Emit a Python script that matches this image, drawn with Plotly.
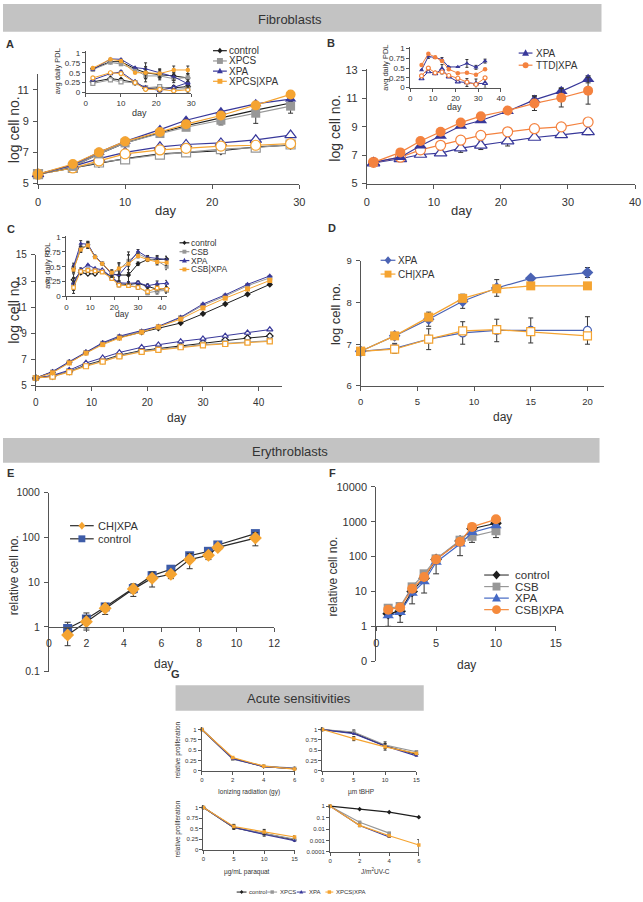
import plotly.graph_objects as go

W, H = 643, 902
FONT = 'Liberation Sans, Arial, Helvetica, sans-serif'

# ---------------- DATA ----------------
# Panel A (fibroblasts, XPCS)
a_days = [0, 4, 7, 10, 14, 17, 21, 25, 29]
a_ctrl_hi = [5.6, 6.1, 6.9, 7.6, 8.25, 8.7, 9.2, 9.7, 10.15]
a_xpcs_hi = [5.6, 6.1, 6.9, 7.6, 8.2, 8.6, 9.05, 9.5, 9.95]
a_xpa_hi = [5.6, 6.2, 7.0, 7.7, 8.45, 9.05, 9.6, 10.1, 10.4]
a_dbl_hi = [5.6, 6.25, 7.0, 7.7, 8.3, 8.8, 9.35, 10.0, 10.7]
a_ctrl_lo = [5.6, 6.0, 6.3, 6.6, 6.9, 7.0, 7.1, 7.35, 7.45]
a_xpcs_lo = [5.6, 6.0, 6.35, 6.55, 6.85, 7.0, 7.2, 7.3, 7.5]
a_xpa_lo = [5.6, 6.1, 6.6, 7.0, 7.35, 7.5, 7.6, 7.8, 8.1]
a_dbl_lo = [5.6, 6.0, 6.45, 6.9, 7.15, 7.25, 7.4, 7.45, 7.55]
a_ctrl_hi_err = [0, 0, 0, 0, 0, 0, 0.25, 0.2, 0.2]
a_xpcs_hi_err = [0, 0, 0, 0, 0.1, 0.1, 0.3, 0.65, 0.45]
a_dbl_hi_err = [0, 0, 0, 0, 0, 0, 0, 0.1, 0.25]

ai_days = [2, 7, 10, 14, 17, 21, 25, 29]
ai_ctrl_hi = [0.6, 0.78, 0.78, 0.6, 0.5, 0.45, 0.42, 0.37]
ai_xpcs_hi = [0.58, 0.76, 0.72, 0.58, 0.42, 0.42, 0.35, 0.38]
ai_xpa_hi = [0.58, 0.85, 0.84, 0.63, 0.6, 0.5, 0.4, 0.22]
ai_dbl_hi = [0.62, 0.84, 0.8, 0.5, 0.5, 0.48, 0.57, 0.57]
ai_ctrl_lo = [0.27, 0.35, 0.32, 0.25, 0.1, 0.12, 0.12, 0.15]
ai_xpcs_lo = [0.23, 0.32, 0.27, 0.25, 0.12, 0.15, 0.08, 0.1]
ai_xpa_lo = [0.32, 0.48, 0.52, 0.27, 0.12, 0.05, 0.13, 0.25]
ai_dbl_lo = [0.37, 0.5, 0.48, 0.25, 0.08, 0.08, 0.04, 0.07]
ai_hi_err = [0, 0, 0, 0, 0.15, 0.1, 0.1, 0.1]
ai_lo_err = [0.03, 0, 0.03, 0, 0, 0.05, 0.05, 0.1]

# Panel B (fibroblasts, TTD)
b_days = [1, 5, 8, 11, 14, 17, 21, 25, 29, 33]
b_xpa_hi = [6.5, 6.86, 7.67, 8.36, 9.06, 9.45, 10.1, 10.9, 11.5, 12.35]
b_ttd_hi = [6.5, 7.2, 8.0, 8.65, 9.3, 9.75, 10.15, 10.65, 11.05, 11.55]
b_xpa_lo = [6.45, 6.75, 7.05, 7.15, 7.5, 7.7, 8.0, 8.25, 8.43, 8.64]
b_ttd_lo = [6.5, 6.86, 7.38, 7.7, 8.06, 8.4, 8.65, 8.87, 9.0, 9.34]
b_ttd_hi_err = [0, 0, 0, 0, 0, 0, 0.2, 0.5, 0.65, 0.95]
b_xpa_hi_err = [0, 0, 0, 0, 0, 0, 0, 0.3, 0.25, 0.25]
b_xpa_lo_err = [0, 0, 0, 0, 0.3, 0.3, 0.35, 0, 0, 0.2]

bi_days = [5, 8, 11, 14, 17, 21, 25, 29, 33]
bi_xpa_hi = [0.45, 0.8, 0.77, 0.72, 0.53, 0.53, 0.62, 0.52, 0.68]
bi_ttd_hi = [0.58, 0.87, 0.78, 0.68, 0.47, 0.37, 0.38, 0.33, 0.47]
bi_ttd_lo = [0.3, 0.5, 0.38, 0.4, 0.31, 0.24, 0.14, 0.08, 0.25]
bi_xpa_lo = [0.23, 0.41, 0.36, 0.47, 0.28, 0.15, 0.13, 0.1, 0.11]
bi_hi_err = [0, 0.05, 0, 0.05, 0, 0, 0.1, 0.05, 0.05]
bi_lo_err = [0, 0, 0, 0.12, 0, 0, 0.1, 0.12, 0.12]

# Panel C (fibroblasts, CSB)
c_days = [0, 3, 6, 9, 12, 15, 19, 22, 26, 30, 34, 38, 42]
c_ctrl_hi = [5.6, 6.05, 6.8, 7.55, 8.25, 8.7, 9.1, 9.4, 9.8, 10.5, 11.25, 12.0, 12.75]
c_csb_hi = [5.6, 6.05, 6.8, 7.55, 8.25, 8.75, 9.15, 9.5, 10.2, 11.15, 11.85, 12.65, 13.25]
c_xpa_hi = [5.6, 6.1, 6.85, 7.6, 8.3, 8.8, 9.2, 9.55, 10.25, 11.25, 11.95, 12.75, 13.4]
c_dbl_hi = [5.6, 6.0, 6.75, 7.5, 8.15, 8.65, 9.1, 9.5, 10.1, 10.95, 11.7, 12.4, 13.05]
c_ctrl_lo = [5.6, 5.75, 6.1, 6.6, 6.95, 7.35, 7.7, 7.85, 8.05, 8.3, 8.5, 8.65, 8.8]
c_csb_lo = [5.6, 5.75, 6.1, 6.55, 6.9, 7.3, 7.65, 7.8, 8.0, 8.15, 8.25, 8.35, 8.45]
c_xpa_lo = [5.6, 5.8, 6.2, 6.75, 7.15, 7.55, 7.95, 8.15, 8.4, 8.6, 8.82, 9.05, 9.3]
c_dbl_lo = [5.6, 5.7, 6.05, 6.5, 6.85, 7.25, 7.6, 7.75, 7.95, 8.1, 8.2, 8.3, 8.4]
c_lo_err = [0, 0, 0, 0, 0, 0, 0, 0, 0.1, 0.1, 0.1, 0.2, 0.2]

ci_days = [3, 6, 9, 12, 15, 19, 22, 26, 30, 34, 38, 42]
ci_ctrl_hi = [0.47, 0.8, 0.87, 0.67, 0.55, 0.38, 0.36, 0.36, 0.55, 0.62, 0.62, 0.63]
ci_csb_hi = [0.48, 0.82, 0.86, 0.67, 0.56, 0.38, 0.45, 0.6, 0.72, 0.64, 0.6, 0.5]
ci_xpa_hi = [0.51, 0.89, 0.88, 0.67, 0.56, 0.37, 0.36, 0.55, 0.76, 0.66, 0.64, 0.62]
ci_dbl_hi = [0.45, 0.79, 0.86, 0.66, 0.55, 0.4, 0.47, 0.55, 0.68, 0.62, 0.58, 0.57]
ci_ctrl_lo = [0.28, 0.4, 0.38, 0.38, 0.43, 0.32, 0.21, 0.2, 0.22, 0.17, 0.12, 0.13]
ci_csb_lo = [0.2, 0.42, 0.45, 0.44, 0.42, 0.31, 0.2, 0.18, 0.16, 0.06, 0.09, 0.1]
ci_xpa_lo = [0.22, 0.45, 0.53, 0.47, 0.45, 0.32, 0.23, 0.22, 0.23, 0.18, 0.21, 0.22]
ci_dbl_lo = [0.15, 0.42, 0.44, 0.43, 0.41, 0.3, 0.19, 0.18, 0.15, 0.08, 0.14, 0.12]
ci_hi_err = [0.05, 0.05, 0.05, 0, 0, 0.05, 0.1, 0.15, 0.03, 0.03, 0.05, 0.05]
ci_lo_err = [0.1, 0.03, 0, 0, 0, 0, 0.03, 0.03, 0.03, 0.03, 0.05, 0.05]

# Panel D (fibroblasts, CH)
d_days = [0, 3, 6, 9, 12, 15, 20]
d_xpa_hi = [6.83, 7.2, 7.6, 8.03, 8.35, 8.58, 8.72]
d_ch_hi = [6.83, 7.2, 7.65, 8.1, 8.33, 8.4, 8.4]
d_xpa_lo = [6.83, 6.9, 7.12, 7.27, 7.33, 7.33, 7.33]
d_ch_lo = [6.83, 6.88, 7.12, 7.32, 7.35, 7.3, 7.2]
d_hi_err = [0, 0.08, 0.17, 0.17, 0.2, 0, 0.12]
d_lo_err = [0, 0.12, 0.25, 0.27, 0.27, 0.3, 0.33]

# Panel E (erythroblasts, CH)
e_days = [1, 2, 3, 4.5, 5.5, 6.5, 7.5, 8.5, 9, 11]
e_ctrl = [0.92, 1.5, 2.8, 7.2, 14, 19.5, 39, 49, 68, 122]
e_ch = [0.66, 1.3, 2.6, 7.0, 12.3, 15, 32, 40, 60, 97]
e_ctrl_err = [0.35, 0.55, 0.4, 1.5, 3, 3, 6, 8, 8, 15]
e_ch_err = [0.28, 0.45, 0.7, 2.2, 4.5, 3, 12, 8, 8, 32]

# Panel F (erythroblasts, CSB)
f_days = [1, 2, 3, 4, 5, 7, 8, 10]
f_ctrl = [2.3, 2.7, 10, 24, 83, 280, 630, 900]
f_csb = [3.3, 3.7, 13.5, 32, 86, 295, 380, 550]
f_xpa = [2.0, 2.5, 8.8, 19, 69, 230, 490, 760]
f_dbl = [3.0, 3.45, 12, 26, 83, 265, 710, 1170]
f_err_up = [0.5, 0.6, 1.5, 3, 10, 40, 150, 150]
f_err_down = [1.3, 1.4, 5.6, 15, 51, 174, 375, 550]

# Panel G (acute sensitivities)
g_ir_x = [0, 2, 4, 6]
g_ir_ctrl = [1, 0.3, 0.1, 0.05]
g_ir_xpcs = [1, 0.28, 0.11, 0.06]
g_ir_xpa = [1, 0.29, 0.1, 0.05]
g_ir_dbl = [1, 0.32, 0.11, 0.04]
g_tb_x = [0, 5, 10, 15]
g_tb_ctrl = [1, 0.92, 0.6, 0.4]
g_tb_xpcs = [1, 0.94, 0.62, 0.46]
g_tb_xpa = [1, 0.9, 0.6, 0.36]
g_tb_dbl = [1, 0.78, 0.58, 0.42]
g_tb_err = [0, 0.05, 0.08, 0.03]
g_pq_x = [0, 5, 10, 15]
g_pq_ctrl = [1, 0.52, 0.38, 0.23]
g_pq_xpcs = [1, 0.53, 0.38, 0.25]
g_pq_xpa = [1, 0.53, 0.36, 0.21]
g_pq_dbl = [1, 0.55, 0.42, 0.3]
g_pq_err = [0, 0.05, 0.06, 0.03]
g_uv_x = [0, 2, 4, 6]
g_uv_ctrl = [1, 0.55, 0.3, 0.11]
g_uv_xpcs = [1, 0.039, 0.0044, None]
g_uv_xpa = [1, 0.02, 0.002, None]
g_uv_dbl = [1, 0.021, 0.0026, 0.0004]
g_uv_err = [0, 0.005, 0.0005, 0.0008]

# tick labels
pdl_ticks = [0, 0.25, 0.5, 0.75, 1]
pdl_text = ['0', '0.25', '0.5', '0.75', '1']
e_yticks = [0.1, 1, 10, 100, 1000]
e_ytext = ['0.1', '1', '10', '100', '1000']
f_yticks = [0.1, 1, 10, 100, 1000, 10000]
f_ytext = ['0', '1', '10', '100', '1000', '10000']
uv_yticks = [0.0001, 0.001, 0.01, 0.1, 1]
uv_ytext = ['0.0001', '0.001', '0.01', '0.1', '1']

# ---------------- STYLE ----------------
BLK = '#1e1e1e'
GRY = '#979797'
NAV = '#38389a'
ORG = '#f5a431'
ORG_B = '#f4823f'
D_BLU = '#4b63b4'
E_BLU = '#3e5ca8'
F_BLU = '#4569c4'
F_ORG = '#f58a3c'
AX = '#555555'
TXT = '#333333'
ERR = '#333333'
BAR = '#c3c3c3'

fig = go.Figure()
layout = {}
shapes = []
annotations = []
n_axes = [0]


def X(p):
    return p / W


def Y(p):
    return 1 - p / H


def axes(xpx, ypx, xr, yr, xt, yt, fs, xtt=None, ytt=None, xtype='linear', ytype='linear',
         ticklen=4, xpos=None, xstand=0, ystand=0):
    n_axes[0] += 1
    n = n_axes[0]
    sfx = '' if n == 1 else str(n)
    base = dict(showgrid=False, zeroline=False, showline=True, linecolor=AX, linewidth=1,
                ticks='outside', tickcolor=AX, ticklen=ticklen, tickwidth=1,
                tickfont=dict(size=fs, color=TXT, family=FONT), fixedrange=True)
    xa = dict(base, domain=[X(xpx[0]), X(xpx[1])], range=xr, type=xtype, tickmode='array',
              tickvals=xt, anchor='y' + sfx, ticklabelstandoff=xstand)
    if xtt:
        xa['ticktext'] = xtt
    if xpos is not None:
        xa['anchor'] = 'free'
        xa['position'] = Y(xpos)
    ya = dict(base, domain=[Y(ypx[1]), Y(ypx[0])], range=yr, type=ytype, tickmode='array',
              tickvals=yt, anchor='x' + sfx, ticklabelstandoff=ystand)
    if ytt:
        ya['ticktext'] = ytt
    layout['xaxis' + sfx] = xa
    layout['yaxis' + sfx] = ya
    return 'x' + sfx, 'y' + sfx


def series(ax, x, y, color, sym, size, open_=False, err=None, lw=1.2, lcolor=None,
           errminus=None, errw=2.5):
    marker = dict(symbol=sym, size=size, color='white' if open_ else color,
                  line=dict(color=color, width=1.2 if open_ else 0))
    kw = {}
    if err is not None:
        ed = dict(type='data', array=err, color=ERR, thickness=1, width=errw, visible=True)
        if errminus is not None:
            ed['symmetric'] = False
            ed['arrayminus'] = errminus
        kw['error_y'] = ed
    fig.add_trace(go.Scatter(x=x, y=y, xaxis=ax[0], yaxis=ax[1], mode='lines+markers',
                             line=dict(color=lcolor or color, width=lw), marker=marker,
                             showlegend=False, cliponaxis=False, hoverinfo='skip', **kw))


def text(x, y, s, size, rot=0, anchor='center', bold=False, color=TXT):
    annotations.append(dict(text=('<b>%s</b>' % s) if bold else s, x=X(x), y=Y(y),
                            xref='paper', yref='paper', showarrow=False, textangle=rot,
                            font=dict(size=size, color=color, family=FONT),
                            xanchor=anchor, yanchor='middle', borderpad=0))


def mshape(cx, cy, sym, size, color):
    r = size / 2.0
    ln = dict(color=color, width=0)
    if sym == 'circle':
        shapes.append(dict(type='circle', xref='paper', yref='paper', x0=X(cx - r), x1=X(cx + r),
                           y0=Y(cy + r), y1=Y(cy - r), fillcolor=color, line=ln, layer='above'))
    elif sym == 'square':
        shapes.append(dict(type='rect', xref='paper', yref='paper', x0=X(cx - r), x1=X(cx + r),
                           y0=Y(cy + r), y1=Y(cy - r), fillcolor=color, line=ln, layer='above'))
    else:
        if sym == 'triangle-up':
            pts = [(cx, cy - r * 1.1), (cx + r, cy + r * 0.75), (cx - r, cy + r * 0.75)]
        else:
            pts = [(cx, cy - r * 1.15), (cx + r, cy), (cx, cy + r * 1.15), (cx - r, cy)]
        path = 'M ' + ' L '.join('%.5f,%.5f' % (X(a), Y(b)) for a, b in pts) + ' Z'
        shapes.append(dict(type='path', xref='paper', yref='paper', path=path, fillcolor=color,
                           line=ln, layer='above'))


def leg(y, x0, x1, tx, label, color, sym, msize, fs, lcolor=None, lw=1.2):
    shapes.append(dict(type='line', xref='paper', yref='paper', x0=X(x0), x1=X(x1), y0=Y(y), y1=Y(y),
                       line=dict(color=lcolor or color, width=lw), layer='above'))
    mshape((x0 + x1) / 2.0, y, sym, msize, color)
    text(tx, y, label, fs, anchor='left')


def bar(x0, y0, x1, y1):
    shapes.append(dict(type='rect', xref='paper', yref='paper', x0=X(x0), x1=X(x1), y0=Y(y1), y1=Y(y0),
                       fillcolor=BAR, line=dict(width=0), layer='below'))


# ---------------- HEADERS ----------------
bar(0, -2, 607, 26)
text(291, 14, 'Fibroblasts', 13)
bar(0, 437.7, 605, 463)
text(291, 451, 'Erythroblasts', 13)
bar(175, 688.3, 426.7, 714.3)
text(300, 702, 'Acute sensitivities', 13)

# panel letters
text(7, 39, 'A', 11, bold=True)
text(333, 38, 'B', 11, bold=True)
text(8, 226, 'C', 11, bold=True)
text(334, 225, 'D', 11, bold=True)
text(8, 473, 'E', 11, bold=True)
text(334, 473, 'F', 11, bold=True)
text(175, 677, 'G', 11, bold=True)

# ---------------- PANEL A ----------------
A = axes((35.5, 300.5), (69, 180), [0, 30], [5, 12], [0, 10, 20, 30], [5, 7, 9, 11], 11,
         xstand=4, ystand=2)
series(A, a_days, a_ctrl_lo, BLK, 'diamond', 6, open_=True)
series(A, a_days, a_xpcs_lo, GRY, 'square', 9, open_=True)
series(A, a_days, a_xpa_lo, NAV, 'triangle-up', 10, open_=True)
series(A, a_days, a_dbl_lo, ORG, 'circle', 10, open_=True)
series(A, a_days, a_ctrl_hi, BLK, 'diamond', 6, err=a_ctrl_hi_err)
series(A, a_days, a_xpcs_hi, GRY, 'square', 9, err=a_xpcs_hi_err)
series(A, a_days, a_xpa_hi, NAV, 'triangle-up', 10)
series(A, a_days, a_dbl_hi, ORG, 'circle', 10, err=a_dbl_hi_err)
text(11, 125, 'log cell no.', 14, rot=-90)
text(165, 207, 'day', 13)

Ai = axes((84, 191), (46, 87.7), [0, 30], [0, 1.04], [0, 10, 20, 30], pdl_ticks, 8,
          ytt=pdl_text, ticklen=3)
for arr, col, sym in [(ai_ctrl_lo, BLK, 'diamond'), (ai_xpcs_lo, GRY, 'square'),
                      (ai_xpa_lo, NAV, 'triangle-up'), (ai_dbl_lo, ORG, 'circle')]:
    series(Ai, ai_days, arr, col, sym, 4, open_=True, err=ai_lo_err, lw=1, errw=1.5)
for arr, col, sym in [(ai_ctrl_hi, BLK, 'diamond'), (ai_xpcs_hi, GRY, 'square'),
                      (ai_xpa_hi, NAV, 'triangle-up'), (ai_dbl_hi, ORG, 'circle')]:
    series(Ai, ai_days, arr, col, sym, 4.5, err=ai_hi_err, lw=1, errw=1.5)
text(55, 66, 'avg daily PDL', 7.5, rot=-90)
text(138, 108.5, 'day', 9)

leg(45.3, 213, 227, 228, 'control', BLK, 'diamond', 5, 10)
leg(55.7, 213, 227, 228, 'XPCS', GRY, 'square', 6, 10)
leg(66.0, 213, 227, 228, 'XPA', NAV, 'triangle-up', 6, 10)
leg(76.3, 213, 227, 228, 'XPCS|XPA', ORG, 'square', 5, 10)

# ---------------- PANEL B ----------------
B = axes((369, 641), (63.5, 180), [0, 40], [5, 13.1], [0, 10, 20, 30, 40], [5, 7, 9, 11, 13], 11,
         xstand=4, ystand=2)
series(B, b_days, b_xpa_lo, NAV, 'triangle-up', 11, open_=True, err=b_xpa_lo_err)
series(B, b_days, b_ttd_lo, ORG_B, 'circle', 10, open_=True)
series(B, b_days, b_xpa_hi, NAV, 'triangle-up', 11, err=b_xpa_hi_err)
series(B, b_days, b_ttd_hi, ORG_B, 'circle', 10, err=b_ttd_hi_err)
text(337, 124, 'log cell no.', 14, rot=-90)
text(465, 207, 'day', 13)

Bi = axes((413, 505), (42, 82.7), [0, 40], [0, 1.03], [0, 10, 20, 30, 40], pdl_ticks, 8,
          ytt=pdl_text, ticklen=3)
series(Bi, bi_days, bi_xpa_lo, NAV, 'triangle-up', 4.5, open_=True, err=bi_lo_err, lw=1, errw=1.5)
series(Bi, bi_days, bi_ttd_lo, ORG_B, 'circle', 4, open_=True, lw=1)
series(Bi, bi_days, bi_xpa_hi, NAV, 'triangle-up', 4.5, err=bi_hi_err, lw=1, errw=1.5)
series(Bi, bi_days, bi_ttd_hi, ORG_B, 'circle', 4.5, lw=1)
text(388, 63, 'avg daily PDL', 7.5, rot=-90)
text(458, 102.5, 'day', 9)

leg(47.7, 523, 537, 540, 'XPA', NAV, 'triangle-up', 7, 10)
leg(60.0, 523, 537, 540, 'TTD|XPA', ORG_B, 'circle', 6, 10)

# ---------------- PANEL C ----------------
C = axes((33.3, 283), (252.3, 385), [0, 44.2], [5, 15], [0, 10, 20, 30, 40], [5, 7, 9, 11, 13, 15],
         10, xstand=3, ystand=2)
series(C, c_days, c_ctrl_lo, BLK, 'diamond', 5, open_=True, lw=1, err=c_lo_err, errw=1.5)
series(C, c_days, c_csb_lo, GRY, 'square', 5, open_=True, lw=1)
series(C, c_days, c_xpa_lo, NAV, 'triangle-up', 5.5, open_=True, lw=1)
series(C, c_days, c_dbl_lo, ORG, 'square', 5, open_=True, lw=1)
series(C, c_days, c_ctrl_hi, BLK, 'diamond', 5, lw=1)
series(C, c_days, c_csb_hi, GRY, 'square', 5, lw=1)
series(C, c_days, c_xpa_hi, NAV, 'triangle-up', 5.5, lw=1)
series(C, c_days, c_dbl_hi, ORG, 'square', 5, lw=1)
text(11, 308, 'log cell no.', 14, rot=-90)
text(176, 418, 'day', 12)

Ci = axes((64.3, 166), (233, 294.3), [0, 42], [0, 1.02], [0, 10, 20, 30, 40], pdl_ticks, 8,
          ytt=pdl_text, ticklen=3)
for arr, col, sym in [(ci_ctrl_lo, BLK, 'diamond'), (ci_csb_lo, GRY, 'square'),
                      (ci_xpa_lo, NAV, 'triangle-up'), (ci_dbl_lo, ORG, 'square')]:
    series(Ci, ci_days, arr, col, sym, 3.5, open_=True, err=ci_lo_err, lw=1, errw=1.5)
for arr, col, sym in [(ci_ctrl_hi, BLK, 'diamond'), (ci_csb_hi, GRY, 'square'),
                      (ci_xpa_hi, NAV, 'triangle-up'), (ci_dbl_hi, ORG, 'square')]:
    series(Ci, ci_days, arr, col, sym, 4, err=ci_hi_err, lw=1, errw=1.5)
text(45, 263, 'avg daily PDL', 7.5, rot=-90)
text(121, 312.5, 'day', 8.5)

leg(240.0, 179, 189, 189.5, 'control', BLK, 'diamond', 4, 8.5)
leg(249.0, 179, 189, 189.5, 'CSB', GRY, 'square', 4, 8.5)
leg(258.0, 179, 189, 189.5, 'XPA', NAV, 'triangle-up', 5, 8.5)
leg(267.0, 179, 189, 189.5, 'CSB|XPA', ORG, 'square', 4, 8.5)

# ---------------- PANEL D ----------------
D = axes((362.7, 610), (258.3, 385), [0, 21.5], [6, 9], [0, 5, 10, 15, 20], [6, 7, 8, 9], 9.5,
         xstand=3, ystand=2)
series(D, d_days, d_xpa_lo, D_BLU, 'circle', 8, open_=True, err=d_lo_err)
series(D, d_days, d_ch_lo, ORG, 'square', 8, open_=True)
series(D, d_days, d_xpa_hi, D_BLU, 'diamond', 9, err=d_hi_err)
series(D, d_days, d_ch_hi, ORG, 'square', 9)
text(338, 312, 'log cell no.', 13, rot=-90)
text(507, 417, 'day', 12)

leg(257.7, 383, 398, 400, 'XPA', D_BLU, 'diamond', 7, 10)
leg(271.7, 383, 398, 400, 'CH|XPA', ORG, 'square', 7, 10)

# ---------------- PANEL E ----------------
E = axes((46.5, 275), (493.3, 674.6), [0, 12], [-1, 3], [0, 2, 4, 6, 8, 10, 12], e_yticks, 10.5,
         ytt=e_ytext, ytype='log', xpos=629.3, xstand=2, ystand=2)
series(E, e_days, e_ctrl, E_BLU, 'square', 9, err=e_ctrl_err, lcolor='#2a2a2a', errw=3)
series(E, e_days, e_ch, ORG, 'diamond', 10, err=e_ch_err, lcolor='#2a2a2a', errw=3)
text(11, 577, 'relative cell no.', 12, rot=-90)
text(163, 667, 'day', 12)

leg(526.7, 68, 92, 95, 'CH|XPA', ORG, 'diamond', 7, 11, lcolor='#2a2a2a')
leg(540.0, 68, 92, 95, 'control', E_BLU, 'square', 7, 11, lcolor='#2a2a2a')

# ---------------- PANEL F ----------------
F = axes((378.5, 560.7), (487.3, 664), [0, 15], [-1, 4], [0, 5, 10, 15], f_yticks, 11,
         ytt=f_ytext, ytype='log', xpos=628.7, xstand=2, ystand=2)
series(F, f_days, f_ctrl, BLK, 'diamond', 9, err=f_err_up, errminus=f_err_down, errw=3)
series(F, f_days, f_csb, GRY, 'square', 9)
series(F, f_days, f_xpa, F_BLU, 'triangle-up', 10)
series(F, f_days, f_dbl, F_ORG, 'circle', 10)
text(335, 578, 'relative cell no.', 12, rot=-90)
text(470, 668, 'day', 12)

leg(576.7, 488, 513, 518, 'control', BLK, 'diamond', 8, 11.5, lcolor='#444444')
leg(588.4, 488, 513, 518, 'CSB', GRY, 'square', 8, 11.5)
leg(600.1, 488, 513, 518, 'XPA', F_BLU, 'triangle-up', 9, 11.5)
leg(611.8, 488, 513, 518, 'CSB|XPA', F_ORG, 'circle', 9, 11.5)

# ---------------- PANEL G ----------------
G1 = axes((201.7, 295.7), (731.2, 775), [0, 6], [0, 1.05], [0, 2, 4, 6], pdl_ticks, 6,
          ytt=pdl_text, ticklen=3)
G2 = axes((324, 419.3), (731.2, 775), [0, 15], [0, 1.05], [0, 5, 10, 15], pdl_ticks, 6,
          ytt=pdl_text, ticklen=3)
G3 = axes((203.3, 295.7), (810.2, 855), [0, 15], [0, 1.05], [0, 5, 10, 15], pdl_ticks, 6,
          ytt=pdl_text, ticklen=3)
G4 = axes((331.7, 421.7), (809.8, 857.3), [0, 6], [-4, 0.1], [0, 2, 4, 6], uv_yticks, 6,
          ytt=uv_ytext, ytype='log', ticklen=3)

for ax, xs, vals, er in [
    (G1, g_ir_x, [g_ir_ctrl, g_ir_xpcs, g_ir_xpa, g_ir_dbl], None),
    (G2, g_tb_x, [g_tb_ctrl, g_tb_xpcs, g_tb_xpa, g_tb_dbl], g_tb_err),
    (G3, g_pq_x, [g_pq_ctrl, g_pq_xpcs, g_pq_xpa, g_pq_dbl], g_pq_err),
    (G4, g_uv_x, [g_uv_ctrl, g_uv_xpcs, g_uv_xpa, g_uv_dbl], g_uv_err),
]:
    for i, (arr, col, sym) in enumerate(zip(vals, [BLK, GRY, NAV, ORG],
                                             ['diamond', 'square', 'triangle-up', 'square'])):
        series(ax, xs, arr, col, sym, 3.5, lw=1.2, err=er if (er is not None and i in (1, 3)) else None,
               errw=1.5)

text(249, 797, 'Ionizing radiation (gy)', 6.5)
text(363, 797, 'µm tBHP', 6.5)
text(247, 878, 'µg/mL paraquat', 6.5)
text(378, 877, 'J/m<sup>2</sup>UV-C', 6.5)
text(177, 754, 'relative proliferation', 6.5, rot=-90)
text(177, 834, 'relative proliferation', 6.5, rot=-90)

leg(898, 237, 247, 248, 'control', BLK, 'diamond', 3.5, 6, lw=1)
leg(898, 268, 278, 279.5, 'XPCS', GRY, 'square', 3.5, 6, lw=1)
leg(898, 298, 307, 309, 'XPA', NAV, 'triangle-up', 4, 6, lw=1)
leg(898, 327, 335, 337, 'XPCS|XPA', ORG, 'square', 3.5, 6, lw=1)

fig.update_layout(width=W, height=H, autosize=False, margin=dict(l=0, r=0, t=0, b=0),
                  paper_bgcolor='white', plot_bgcolor='rgba(0,0,0,0)', showlegend=False,
                  font=dict(family=FONT, color=TXT), shapes=shapes, annotations=annotations,
                  **layout)
fig.write_html('out.html', config={'displayModeBar': False, 'staticPlot': True},
               post_script="document.body.style.margin='0px';")
